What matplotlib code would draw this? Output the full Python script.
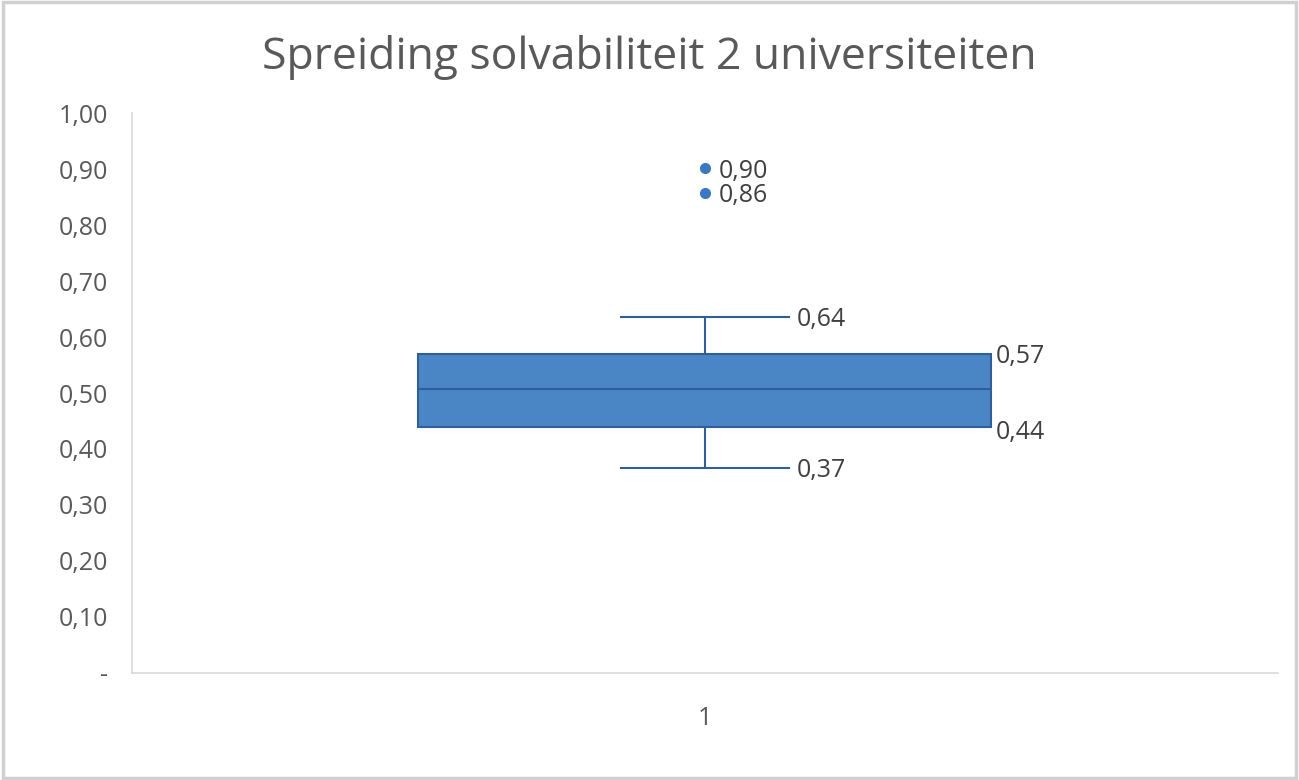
import matplotlib.pyplot as plt
from matplotlib.patches import Rectangle

plt.rcParams['font.family'] = ['Open Sans', 'DejaVu Sans']

title = "Spreiding solvabiliteit 2 universiteiten"
category = ["1"]
q1 = 0.44
q3 = 0.57
median = 0.507
whisker_low = 0.366
whisker_high = 0.636
outliers = [0.901, 0.858]
yticks = [0, 0.1, 0.2, 0.3, 0.4, 0.5, 0.6, 0.7, 0.8, 0.9, 1.0]

text_col = "#595959"
box_face = "#4A86C6"
box_edge = "#2F5F98"


def fmt(v):
    return f"{v:.2f}".replace(".", ",")


fig = plt.figure(figsize=(12.99, 7.8), dpi=100)
ax = fig.add_axes([0.1016, 0.1372, 0.8822, 0.7179])

stats = [{"med": median, "q1": q1, "q3": q3, "whislo": whisker_low,
          "whishi": whisker_high, "fliers": outliers, "label": category[0]}]
ax.bxp(stats, positions=[1], widths=0.5, patch_artist=True,
       boxprops=dict(facecolor=box_face, edgecolor=box_edge, linewidth=1.5),
       medianprops=dict(color=box_edge, linewidth=1.5),
       whiskerprops=dict(color=box_edge, linewidth=1.5),
       capprops=dict(color=box_edge, linewidth=1.5),
       capwidths=0.147,
       flierprops=dict(marker="o", markerfacecolor="#3C78C0",
                       markeredgecolor="#3C78C0", markersize=7))

# data labels (nudged a little below their values, like Excel)
lab_kw = dict(fontsize=18, color="#404040", va="center", ha="left")
nudge = 0.005
ax.text(1.080, whisker_high - nudge, fmt(whisker_high), **lab_kw)
ax.text(1.080, whisker_low - nudge, fmt(whisker_low), **lab_kw)
ax.text(1.254, q3 - nudge, fmt(q3), **lab_kw)
ax.text(1.254, q1 - 2 * nudge, fmt(q1), **lab_kw)
for v in outliers:
    ax.text(1.012, v - nudge, fmt(v), **lab_kw)

ax.set_xlim(0.5, 1.5)
ax.set_ylim(0, 1)
ax.set_yticks(yticks)
ax.set_yticklabels(["-" if v == 0 else fmt(v) for v in yticks])
ax.set_xticks([1])
ax.set_xticklabels(category)
ax.tick_params(length=0, labelsize=18, labelcolor=text_col)
ax.tick_params(axis="y", pad=17)
ax.tick_params(axis="x", pad=24)

for s in ["top", "right"]:
    ax.spines[s].set_visible(False)
ax.spines["left"].set_color("#D9D9D9")
ax.spines["bottom"].set_color("#D9D9D9")
ax.spines["left"].set_linewidth(1.2)
ax.spines["bottom"].set_linewidth(1.2)

fig.text(0.5, 0.926, title, ha="center", va="center", fontsize=32,
         color=text_col)

fig.patches.append(Rectangle((0.002, 0.003), 0.996, 0.994, transform=fig.transFigure,
                             fill=False, edgecolor="#D0D0D0", linewidth=2.5))

fig.savefig("out.png", dpi=100)
